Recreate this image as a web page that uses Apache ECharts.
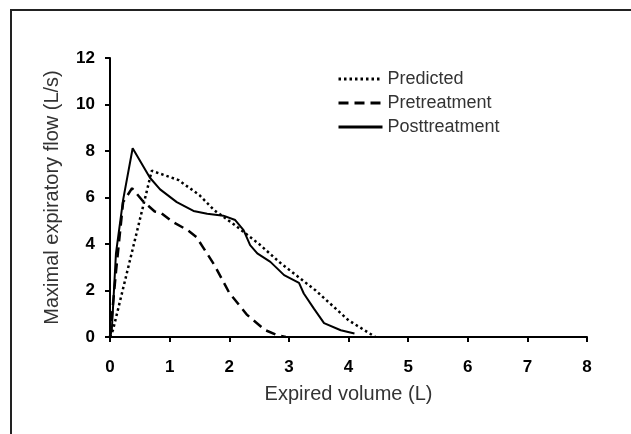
<!DOCTYPE html>
<html>
<head>
<meta charset="utf-8">
<script src="https://cdn.jsdelivr.net/npm/echarts@6/dist/echarts.min.js"></script>
<style>html,body{margin:0;padding:0;background:#fff}#c{width:631px;height:434px}</style>
</head>
<body>
<div id="c"></div>
<script>
var xTicks = [0, 1, 2, 3, 4, 5, 6, 7, 8];
var yTicks = [0, 2, 4, 6, 8, 10, 12];
var seriesNames = ['Predicted', 'Pretreatment', 'Posttreatment'];
var predicted = [[0,0],[0.05,0.3],[0.7,7.15],[1.15,6.75],[1.5,6.1],[1.75,5.45],[2.1,4.8],[2.5,4.0],[2.85,3.2],[3.45,2.0],[4.0,0.72],[4.45,0]];
var pretreatment = [[0,0],[0.1,2.8],[0.22,5.8],[0.37,6.4],[0.55,5.85],[0.75,5.4],[0.85,5.35],[1.05,4.95],[1.3,4.6],[1.45,4.3],[1.55,3.9],[1.75,3.1],[2.0,1.9],[2.3,0.95],[2.6,0.3],[2.8,0.08],[2.95,0]];
var posttreatment = [[0,0],[0.03,0.3],[0.06,1.7],[0.1,3.6],[0.22,5.9],[0.38,8.12],[0.67,6.85],[0.84,6.35],[1.12,5.8],[1.4,5.42],[1.63,5.3],[1.9,5.22],[2.1,5.03],[2.24,4.6],[2.35,3.95],[2.47,3.6],[2.69,3.23],[2.92,2.66],[3.17,2.33],[3.25,1.87],[3.42,1.22],[3.59,0.6],[3.87,0.29],[4.1,0.15]];

var chart = echarts.init(document.getElementById('c'), null, {renderer: 'canvas'});
var txt = '#333';
var font = "'Liberation Sans', Arial, sans-serif";
chart.setOption({
  animation: false,
  backgroundColor: '#fff',
  grid: {left: 110, right: 44, top: 58, bottom: 97, containLabel: false},
  legend: {
    orient: 'vertical', left: 332, top: 65,
    itemWidth: 44, itemHeight: 14, itemGap: 6,
    data: seriesNames,
    itemStyle: {opacity: 0},
    lineStyle: {width: 3},
    textStyle: {fontFamily: font, fontSize: 18, color: txt}
  },
  xAxis: {
    type: 'value', min: 0, max: 8, interval: 1,
    name: 'Expired volume (L)', nameLocation: 'middle', nameGap: 47,
    nameTextStyle: {fontFamily: font, fontSize: 20, color: txt},
    axisLine: {show: true, lineStyle: {color: '#000', width: 2}},
    axisTick: {show: true, length: 5, lineStyle: {color: '#000', width: 2}},
    axisLabel: {fontFamily: font, fontSize: 17, fontWeight: 'bold', color: '#000', margin: 22,
      formatter: function(v){ return xTicks.indexOf(v) >= 0 ? String(v) : ''; }},
    splitLine: {show: false}
  },
  yAxis: {
    type: 'value', min: 0, max: 12, interval: 2,
    name: 'Maximal expiratory flow (L/s)', nameLocation: 'middle', nameGap: 48,
    nameTextStyle: {fontFamily: font, fontSize: 20, color: txt},
    axisLine: {show: true, lineStyle: {color: '#000', width: 2}},
    axisTick: {show: true, length: 5, lineStyle: {color: '#000', width: 2}},
    axisLabel: {fontFamily: font, fontSize: 17, fontWeight: 'bold', color: '#000', margin: 15,
      formatter: function(v){ return yTicks.indexOf(v) >= 0 ? String(v) : ''; }},
    splitLine: {show: false}
  },
  series: [
    {name: seriesNames[0], type: 'line', data: predicted, symbol: 'none', showSymbol: false,
     lineStyle: {color: '#000', width: 2.5, type: [2.5, 3]}, itemStyle: {color: '#000'}},
    {name: seriesNames[1], type: 'line', data: pretreatment, symbol: 'none', showSymbol: false,
     lineStyle: {color: '#000', width: 2.5, type: [10, 6]}, itemStyle: {color: '#000'}},
    {name: seriesNames[2], type: 'line', data: posttreatment, symbol: 'none', showSymbol: false,
     lineStyle: {color: '#000', width: 2}, itemStyle: {color: '#000'}}
  ],
  graphic: [
    {type: 'polyline', silent: true, shape: {points: [[11, 434], [11, 10], [631, 10]]},
     style: {stroke: '#222', lineWidth: 2, fill: null}}
  ]
});
</script>
</body>
</html>
